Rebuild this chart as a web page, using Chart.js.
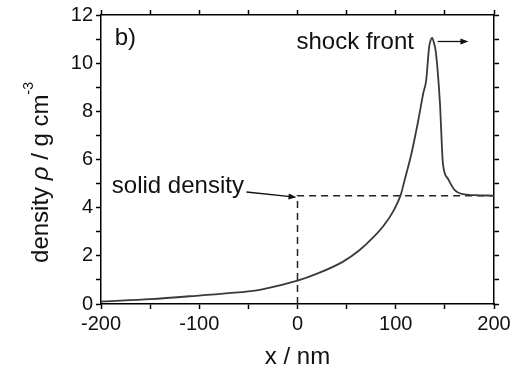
<!DOCTYPE html>
<html lang="en">
<head>
  <meta charset="UTF-8">
  <title>Density profile</title>
  <script src="https://cdn.jsdelivr.net/npm/chart.js"></script>
  <style>
    html, body {
      margin: 0;
      padding: 0;
      background: #fff;
    }
    #wrap {
      width: 524px;
      height: 372px;
    }
  </style>
</head>
<body>
  <div id="wrap"><canvas id="myChart" width="524" height="372"></canvas></div>

  <script>
    // density profile
    const posX = [-200, -195, -150, -98, -50, -37, 0, 20, 46, 63, 76, 88, 98, 105, 109, 116, 123, 128, 131, 134, 135.5, 137, 138.5, 141, 145, 148, 153, 160, 168, 180, 200];
    const density = [0.1, 0.11, 0.2, 0.36, 0.52, 0.6, 0.97, 1.26, 1.75, 2.23, 2.72, 3.27, 3.89, 4.52, 5.14, 6.25, 7.64, 8.75, 9.3, 10.68, 10.95, 11.05, 10.9, 10.4, 8.33, 5.84, 5.21, 4.73, 4.56, 4.52, 4.5];

    // solid density guide (dashed)
    const solidX = [0, 0, 200];
    const solidY = [0, 4.5, 4.5];

    const xLabelTicks = [-200, -100, 0, 100, 200];
    const yLabelTicks = [0, 2, 4, 6, 8, 10, 12];

    const FONT = "'Liberation Sans', Arial, sans-serif";
    const INK = '#111';

    // annotation placement in data units
    const notes = [
      { text: 'b)', x: -186, y: 10.75 },
      { text: 'shock front', x: -1, y: 10.6 },
      { text: 'solid density', x: -189, y: 4.6 }
    ];
    const arrows = [
      { from: [142.7, 10.9], to: [174, 10.9] },
      { from: [-52, 4.65], to: [-1, 4.43] }
    ];

    const annotate = {
      id: 'annotate',
      afterDraw(chart) {
        const ctx = chart.ctx;
        const sx = chart.scales.x, sy = chart.scales.y;
        ctx.save();
        ctx.fillStyle = INK;
        ctx.strokeStyle = INK;
        ctx.font = '24px ' + FONT;
        ctx.textBaseline = 'alphabetic';
        ctx.textAlign = 'left';
        notes.forEach(n => {
          ctx.fillText(n.text, sx.getPixelForValue(n.x), sy.getPixelForValue(n.y));
        });

        ctx.lineWidth = 1.3;
        arrows.forEach(a => {
          const x1 = sx.getPixelForValue(a.from[0]), y1 = sy.getPixelForValue(a.from[1]);
          const x2 = sx.getPixelForValue(a.to[0]), y2 = sy.getPixelForValue(a.to[1]);
          const ang = Math.atan2(y2 - y1, x2 - x1);
          ctx.beginPath();
          ctx.moveTo(x1, y1);
          ctx.lineTo(x2 - 6 * Math.cos(ang), y2 - 6 * Math.sin(ang));
          ctx.stroke();
          ctx.beginPath();
          ctx.moveTo(x2, y2);
          ctx.lineTo(x2 - 8 * Math.cos(ang) + 3 * Math.sin(ang), y2 - 8 * Math.sin(ang) - 3 * Math.cos(ang));
          ctx.lineTo(x2 - 8 * Math.cos(ang) - 3 * Math.sin(ang), y2 - 8 * Math.sin(ang) + 3 * Math.cos(ang));
          ctx.closePath();
          ctx.fill();
        });

        // y axis title with italic rho and superscript
        const runs = [
          { t: 'density ', f: '24px ' + FONT, dy: 0 },
          { t: '\u03C1', f: 'italic 24px ' + FONT, dy: 0 },
          { t: ' / g cm', f: '24px ' + FONT, dy: 0 },
          { t: '-3', f: '14px ' + FONT, dy: -15 }
        ];
        let total = 0;
        runs.forEach(r => { ctx.font = r.f; r.w = ctx.measureText(r.t).width; total += r.w; });
        ctx.translate(48, (sy.top + sy.bottom) / 2 + 13);
        ctx.rotate(-Math.PI / 2);
        let cx = -total / 2;
        runs.forEach(r => {
          ctx.font = r.f;
          ctx.fillText(r.t, cx, r.dy);
          cx += r.w;
        });
        ctx.restore();
      }
    };

    const axisGrid = {
      drawOnChartArea: false,
      drawTicks: true,
      tickLength: 5,
      tickWidth: 1.5,
      tickColor: '#000'
    };
    const axisBorder = { color: '#000', width: 1.5 };

    new Chart(document.getElementById('myChart'), {
      type: 'line',
      data: {
        datasets: [
          {
            label: 'density',
            data: posX.map((x, i) => ({ x: x, y: density[i] })),
            borderColor: '#3a3a3a',
            borderWidth: 1.8,
            pointRadius: 0,
            cubicInterpolationMode: 'monotone',
            fill: false
          },
          {
            label: 'solid density',
            data: solidX.map((x, i) => ({ x: x, y: solidY[i] })),
            borderColor: '#222',
            borderWidth: 1.5,
            borderDash: [7, 5],
            pointRadius: 0,
            tension: 0,
            fill: false
          }
        ]
      },
      options: {
        responsive: false,
        animation: false,
        devicePixelRatio: 1,
        layout: { padding: 0 },
        plugins: {
          legend: { display: false },
          tooltip: { enabled: false }
        },
        scales: {
          x: {
            type: 'linear',
            position: 'bottom',
            min: -200,
            max: 200,
            grid: axisGrid,
            border: axisBorder,
            ticks: {
              stepSize: 50,
              autoSkip: false,
              maxRotation: 0,
              padding: 3,
              color: INK,
              font: { family: FONT, size: 20 },
              callback: v => xLabelTicks.includes(v) ? String(v) : ''
            },
            title: {
              display: true,
              text: 'x / nm',
              color: INK,
              font: { family: FONT, size: 24 },
              padding: { top: 0, bottom: 0 }
            },
            afterFit: s => { s.height = 68; }
          },
          xTop: {
            type: 'linear',
            axis: 'x',
            position: 'top',
            min: -200,
            max: 200,
            grid: axisGrid,
            border: axisBorder,
            ticks: { stepSize: 50, display: false, autoSkip: false },
            afterFit: s => { s.height = 15; }
          },
          y: {
            type: 'linear',
            position: 'left',
            min: 0,
            max: 12,
            grid: axisGrid,
            border: axisBorder,
            ticks: {
              stepSize: 1,
              autoSkip: false,
              padding: 3,
              color: INK,
              font: { family: FONT, size: 20 },
              callback: v => yLabelTicks.includes(v) ? String(v) : ''
            },
            afterFit: s => { s.width = 101; }
          },
          yRight: {
            type: 'linear',
            axis: 'y',
            position: 'right',
            min: 0,
            max: 12,
            grid: axisGrid,
            border: axisBorder,
            ticks: { stepSize: 1, display: false, autoSkip: false },
            afterFit: s => { s.width = 30; }
          }
        }
      },
      plugins: [annotate]
    });
  </script>
</body>
</html>
